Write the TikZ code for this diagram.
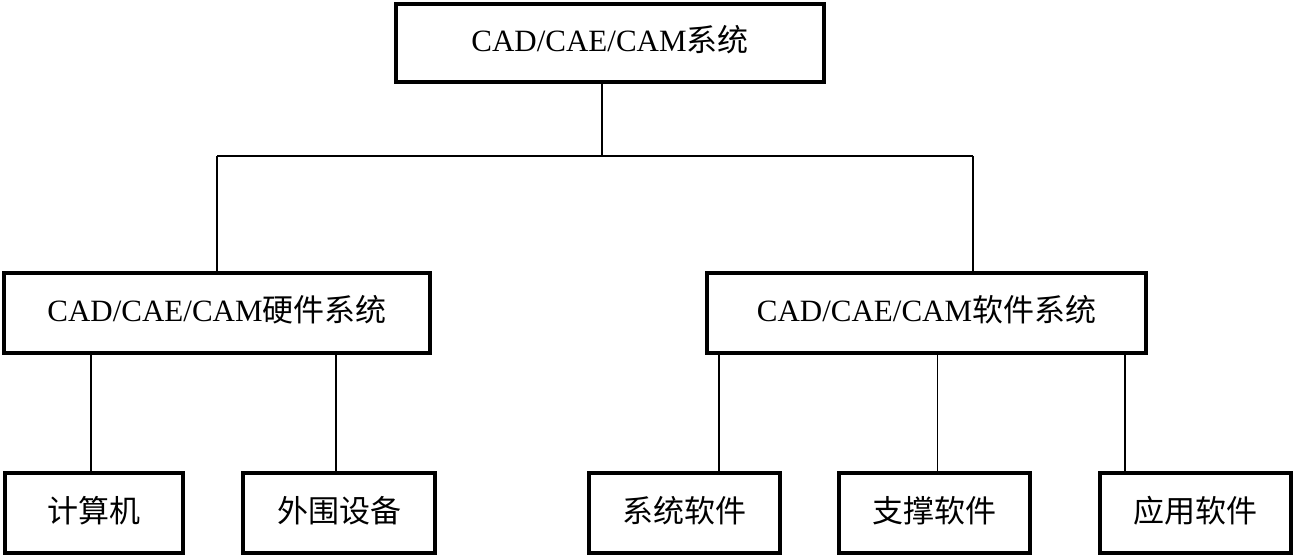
\documentclass[tikz,border=0pt]{standalone}
\usepackage{fontspec}
\setmainfont{Liberation Serif}
\newfontfamily\cjk{Noto Sans CJK SC}
\begin{document}
\begin{tikzpicture}[x=1pt,y=1pt,
  box/.style={draw, line width=3.2pt, inner sep=0pt, minimum height=80pt,
    font=\fontsize{31}{36}\selectfont, text height=22pt, text depth=4pt},
  conn/.style={line width=1.4pt}]
\useasboundingbox (0,0) rectangle (1295,557);
% boxes
\node[box, minimum width=428pt, minimum height=78pt] (top) at (610,514) {CAD/CAE/CAM{\cjk 系统}};
\node[box, minimum width=426pt] (hw) at (217,244) {CAD/CAE/CAM{\cjk 硬件系统}};
\node[box, minimum width=439pt] (sw) at (926.5,244) {CAD/CAE/CAM{\cjk 软件系统}};
\node[box, minimum width=178pt] (c1) at (94,44) {\cjk 计算机};
\node[box, minimum width=192pt] (c2) at (339,44) {\cjk 外围设备};
\node[box, minimum width=191pt] (s1) at (684.5,44) {\cjk 系统软件};
\node[box, minimum width=191pt] (s2) at (934.5,44) {\cjk 支撑软件};
\node[box, minimum width=191pt] (s3) at (1195.5,44) {\cjk 应用软件};
% bus coordinates
\coordinate (busT) at (602,401);
\coordinate (busL) at (217,401);
\coordinate (busR) at (973,401);
\coordinate (c1t) at (91,84);
\coordinate (c2t) at (336,84);
\coordinate (s1t) at (719,84);
\coordinate (s2t) at (937.5,84);
\coordinate (s3t) at (1125,84);
% connectors
\draw[conn] (busT |- top.south) -- (busT);
\draw[line width=2pt] (busL) -- (busR);
\draw[conn] (busL) -- (hw.north);
\draw[conn] (busR) -- (busR |- sw.north);
\draw[conn] (c1t |- hw.south) -- (c1t);
\draw[conn] (c2t |- hw.south) -- (c2t);
\draw[conn] (s1t |- sw.south) -- (s1t);
\draw[conn] (s2t |- sw.south) -- (s2t);
\draw[conn] (s3t |- sw.south) -- (s3t);
\end{tikzpicture}
\end{document}
